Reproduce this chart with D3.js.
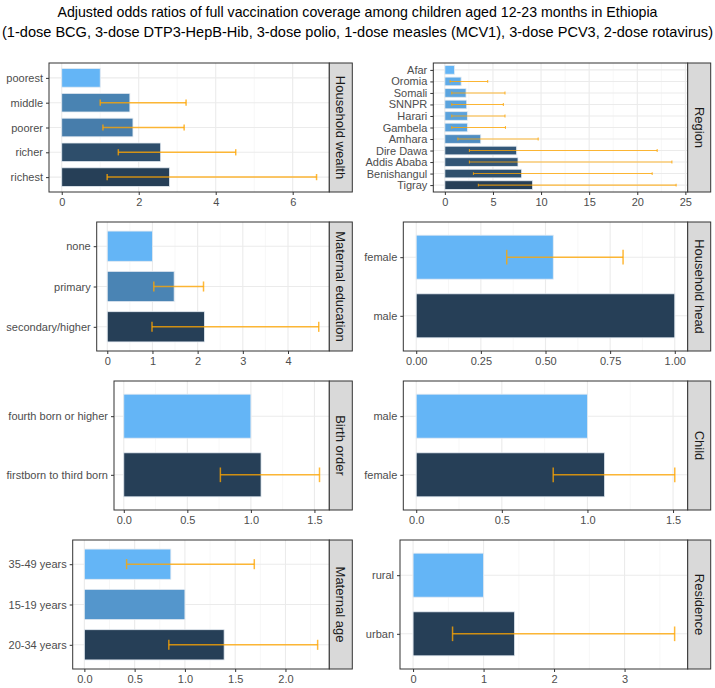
<!DOCTYPE html>
<html>
<head>
<meta charset="utf-8">
<script src="https://cdn.jsdelivr.net/npm/d3@7"></script>
<style>
  html, body { margin: 0; padding: 0; background: #fff; }
  svg { display: block; }
  text { font-family: "Liberation Sans", Arial, sans-serif; }
</style>
</head>
<body>
<svg id="chart" width="715" height="688"></svg>
<script>
// ---------------- DATA ----------------
const titleLines = [
  "Adjusted odds ratios of full vaccination coverage among children aged 12-23 months in Ethiopia",
  "(1-dose BCG, 3-dose DTP3-HepB-Hib, 3-dose polio, 1-dose measles (MCV1), 3-dose PCV3, 2-dose rotavirus)"
];

const wealthCats = ["poorest", "middle", "poorer", "richer", "richest"];
const wealthOR   = [1.00, 1.77, 1.85, 2.57, 2.80];
const wealthLo   = [null, 1.00, 1.07, 1.47, 1.18];
const wealthHi   = [null, 3.23, 3.18, 4.52, 6.62];
const wealthTicks = [0, 2, 4, 6];

const regionCats = ["Afar", "Oromia", "Somali", "SNNPR", "Harari", "Gambela", "Amhara", "Dire Dawa", "Addis Ababa", "Benishangul", "Tigray"];
const regionOR   = [1.00, 1.69, 2.20, 2.27, 2.34, 2.34, 3.73, 7.46, 7.60, 7.98, 9.12];
const regionLo   = [null, 0.55, 0.72, 0.72, 0.72, 0.72, 1.35, 2.55, 2.55, 2.97, 3.48];
const regionHi   = [null, 4.45, 6.25, 6.08, 6.25, 6.30, 9.70, 22.07, 23.60, 21.55, 24.04];
const regionTicks = [0, 5, 10, 15, 20, 25];

const eduCats = ["none", "primary", "secondary/higher"];
const eduOR   = [1.00, 1.48, 2.15];
const eduLo   = [null, 1.03, 0.99];
const eduHi   = [null, 2.13, 4.68];
const eduTicks = [0, 1, 2, 3, 4];

const headCats = ["female", "male"];
const headOR   = [0.53, 1.00];
const headLo   = [0.35, null];
const headHi   = [0.80, null];
const headTicks = [0, 0.25, 0.5, 0.75, 1.0];

const birthCats = ["fourth born or higher", "firstborn to third born"];
const birthOR   = [1.00, 1.08];
const birthLo   = [null, 0.76];
const birthHi   = [null, 1.54];
const birthTicks = [0, 0.5, 1.0, 1.5];

const childCats = ["male", "female"];
const childOR   = [1.00, 1.10];
const childLo   = [null, 0.80];
const childHi   = [null, 1.51];
const childTicks = [0, 0.5, 1.0, 1.5];

const ageCats = ["35-49 years", "15-19 years", "20-34 years"];
const ageOR   = [0.86, 1.00, 1.39];
const ageLo   = [0.42, null, 0.84];
const ageHi   = [1.69, null, 2.32];
const ageTicks = [0, 0.5, 1.0, 1.5, 2.0];

const resCats = ["rural", "urban"];
const resOR   = [1.00, 1.44];
const resLo   = [null, 0.56];
const resHi   = [null, 3.71];
const resTicks = [0, 1, 2, 3];

// ---------------- PANELS ----------------
const panels = [
  { strip: "Household wealth",   cats: wealthCats, or: wealthOR, lo: wealthLo, hi: wealthHi, ticks: wealthTicks, fmt: d3.format("d"),   col: 0, row: 0, x0: 49 },
  { strip: "Region",             cats: regionCats, or: regionOR, lo: regionLo, hi: regionHi, ticks: regionTicks, fmt: d3.format("d"),   col: 1, row: 0, x0: 433.3 },
  { strip: "Maternal education", cats: eduCats,    or: eduOR,    lo: eduLo,    hi: eduHi,    ticks: eduTicks,    fmt: d3.format("d"),   col: 0, row: 1, x0: 96.7 },
  { strip: "Household head",     cats: headCats,   or: headOR,   lo: headLo,   hi: headHi,   ticks: headTicks,   fmt: d3.format(".2f"), col: 1, row: 1, x0: 403.3 },
  { strip: "Birth order",        cats: birthCats,  or: birthOR,  lo: birthLo,  hi: birthHi,  ticks: birthTicks,  fmt: d3.format(".1f"), col: 0, row: 2, x0: 114 },
  { strip: "Child",              cats: childCats,  or: childOR,  lo: childLo,  hi: childHi,  ticks: childTicks,  fmt: d3.format(".1f"), col: 1, row: 2, x0: 403.3 },
  { strip: "Maternal age",       cats: ageCats,    or: ageOR,    lo: ageLo,    hi: ageHi,    ticks: ageTicks,    fmt: d3.format(".1f"), col: 0, row: 3, x0: 72.7 },
  { strip: "Residence",          cats: resCats,    or: resOR,    lo: resLo,    hi: resHi,    ticks: resTicks,    fmt: d3.format("d"),   col: 1, row: 3, x0: 400 }
];

const colRight = [329.3, 687.7];
const stripW = 23;
const rowTop = [63, 222, 381, 540];
const panelH = 129;

const svg = d3.select("#chart");

// Title
const titleLens = [600, 711];
svg.selectAll("text.title").data(titleLines).enter().append("text")
  .attr("class", "title")
  .attr("x", 357.5)
  .attr("y", (d, i) => 17 + i * 20)
  .attr("text-anchor", "middle")
  .attr("font-size", 14.5)
  .attr("textLength", (d, i) => titleLens[i])
  .attr("lengthAdjust", "spacingAndGlyphs")
  .attr("fill", "#000")
  .text(d => d);

const lightC = "#64B5F6", darkC = "#263F57";
const ebColor = "rgba(255,165,0,0.78)";

panels.forEach(p => {
  const x0 = p.x0, x1 = colRight[p.col];
  const y0 = rowTop[p.row], y1 = y0 + panelH;
  const g = svg.append("g");

  const vals = p.or.concat(p.hi.filter(v => v != null));
  const mx = d3.max(vals);
  const x = d3.scaleLinear().domain([-0.05 * mx, mx * 1.05]).range([x0, x1]);

  const n = p.cats.length;
  const unit = panelH / (n - 1 + 1.2);
  const y = d3.scalePoint().domain(p.cats).range([y0 + 0.6 * unit, y1 - 0.6 * unit]);

  const color = d3.scaleLinear().domain([d3.min(p.or), d3.max(p.or)]).range([lightC, darkC]);

  g.append("rect").attr("x", x0).attr("y", y0).attr("width", x1 - x0).attr("height", panelH).attr("fill", "#fff");

  // minor grid
  const step = p.ticks[1] - p.ticks[0];
  const dom = x.domain();
  const minors = [];
  for (let v = p.ticks[0] - step / 2; v <= dom[1]; v += step) {
    if (v >= dom[0]) minors.push(v);
  }
  g.selectAll("line.minor").data(minors).enter().append("line")
    .attr("x1", d => x(d)).attr("x2", d => x(d))
    .attr("y1", y0).attr("y2", y1)
    .attr("stroke", "#F2F2F2").attr("stroke-width", 0.6);
  g.selectAll("line.majx").data(p.ticks).enter().append("line")
    .attr("x1", d => x(d)).attr("x2", d => x(d))
    .attr("y1", y0).attr("y2", y1)
    .attr("stroke", "#EBEBEB").attr("stroke-width", 1.1);
  g.selectAll("line.majy").data(p.cats).enter().append("line")
    .attr("x1", x0).attr("x2", x1)
    .attr("y1", d => y(d)).attr("y2", d => y(d))
    .attr("stroke", "#EBEBEB").attr("stroke-width", 1.1);

  // bars
  const bh = 0.75 * unit;
  g.selectAll("rect.bar").data(p.cats).enter().append("rect")
    .attr("x", x(0))
    .attr("y", d => y(d) - bh / 2)
    .attr("width", (d, i) => x(p.or[i]) - x(0))
    .attr("height", bh)
    .attr("fill", (d, i) => color(p.or[i]))
    .attr("stroke", "#E3EAF1").attr("stroke-width", 0.8);

  // error bars
  const eb = p.cats.map((c, i) => ({ c, lo: p.lo[i], hi: p.hi[i] })).filter(d => d.lo != null);
  const cap = 0.25 * unit;
  const ebw = p.cats.length > 6 ? 1.1 : 1.5;
  eb.forEach(d => {
    const yy = y(d.c);
    g.append("line").attr("x1", x(d.lo)).attr("x2", x(d.hi)).attr("y1", yy).attr("y2", yy)
      .attr("stroke", ebColor).attr("stroke-width", ebw);
    [d.lo, d.hi].forEach(v => {
      g.append("line").attr("x1", x(v)).attr("x2", x(v)).attr("y1", yy - cap / 2).attr("y2", yy + cap / 2)
        .attr("stroke", ebColor).attr("stroke-width", ebw);
    });
  });

  g.append("rect").attr("x", x0).attr("y", y0).attr("width", x1 - x0).attr("height", panelH)
    .attr("fill", "none").attr("stroke", "#333").attr("stroke-width", 1);

  // strip
  g.append("rect").attr("x", x1).attr("y", y0).attr("width", stripW).attr("height", panelH)
    .attr("fill", "#D9D9D9").attr("stroke", "#333").attr("stroke-width", 1);
  g.append("text")
    .attr("transform", `translate(${x1 + stripW / 2},${y0 + panelH / 2}) rotate(90)`)
    .attr("text-anchor", "middle").attr("dominant-baseline", "central")
    .attr("font-size", 13).attr("fill", "#1A1A1A")
    .text(p.strip);

  // axes
  const xa = d3.axisBottom(x).tickValues(p.ticks).tickFormat(p.fmt).tickSize(3).tickPadding(3);
  const xg = g.append("g").attr("transform", `translate(0,${y1})`).call(xa);
  xg.select(".domain").remove();
  xg.selectAll("line").attr("stroke", "#333");
  xg.selectAll("text").attr("fill", "#4D4D4D").attr("font-size", 11)
    .attr("font-family", "'Liberation Sans', Arial, sans-serif");

  const ya = d3.axisLeft(y).tickSize(3).tickPadding(3);
  const yg = g.append("g").attr("transform", `translate(${x0},0)`).call(ya);
  yg.select(".domain").remove();
  yg.selectAll("line").attr("stroke", "#333");
  yg.selectAll("text").attr("fill", "#4D4D4D").attr("font-size", 11)
    .attr("font-family", "'Liberation Sans', Arial, sans-serif");
});
</script>
</body>
</html>
